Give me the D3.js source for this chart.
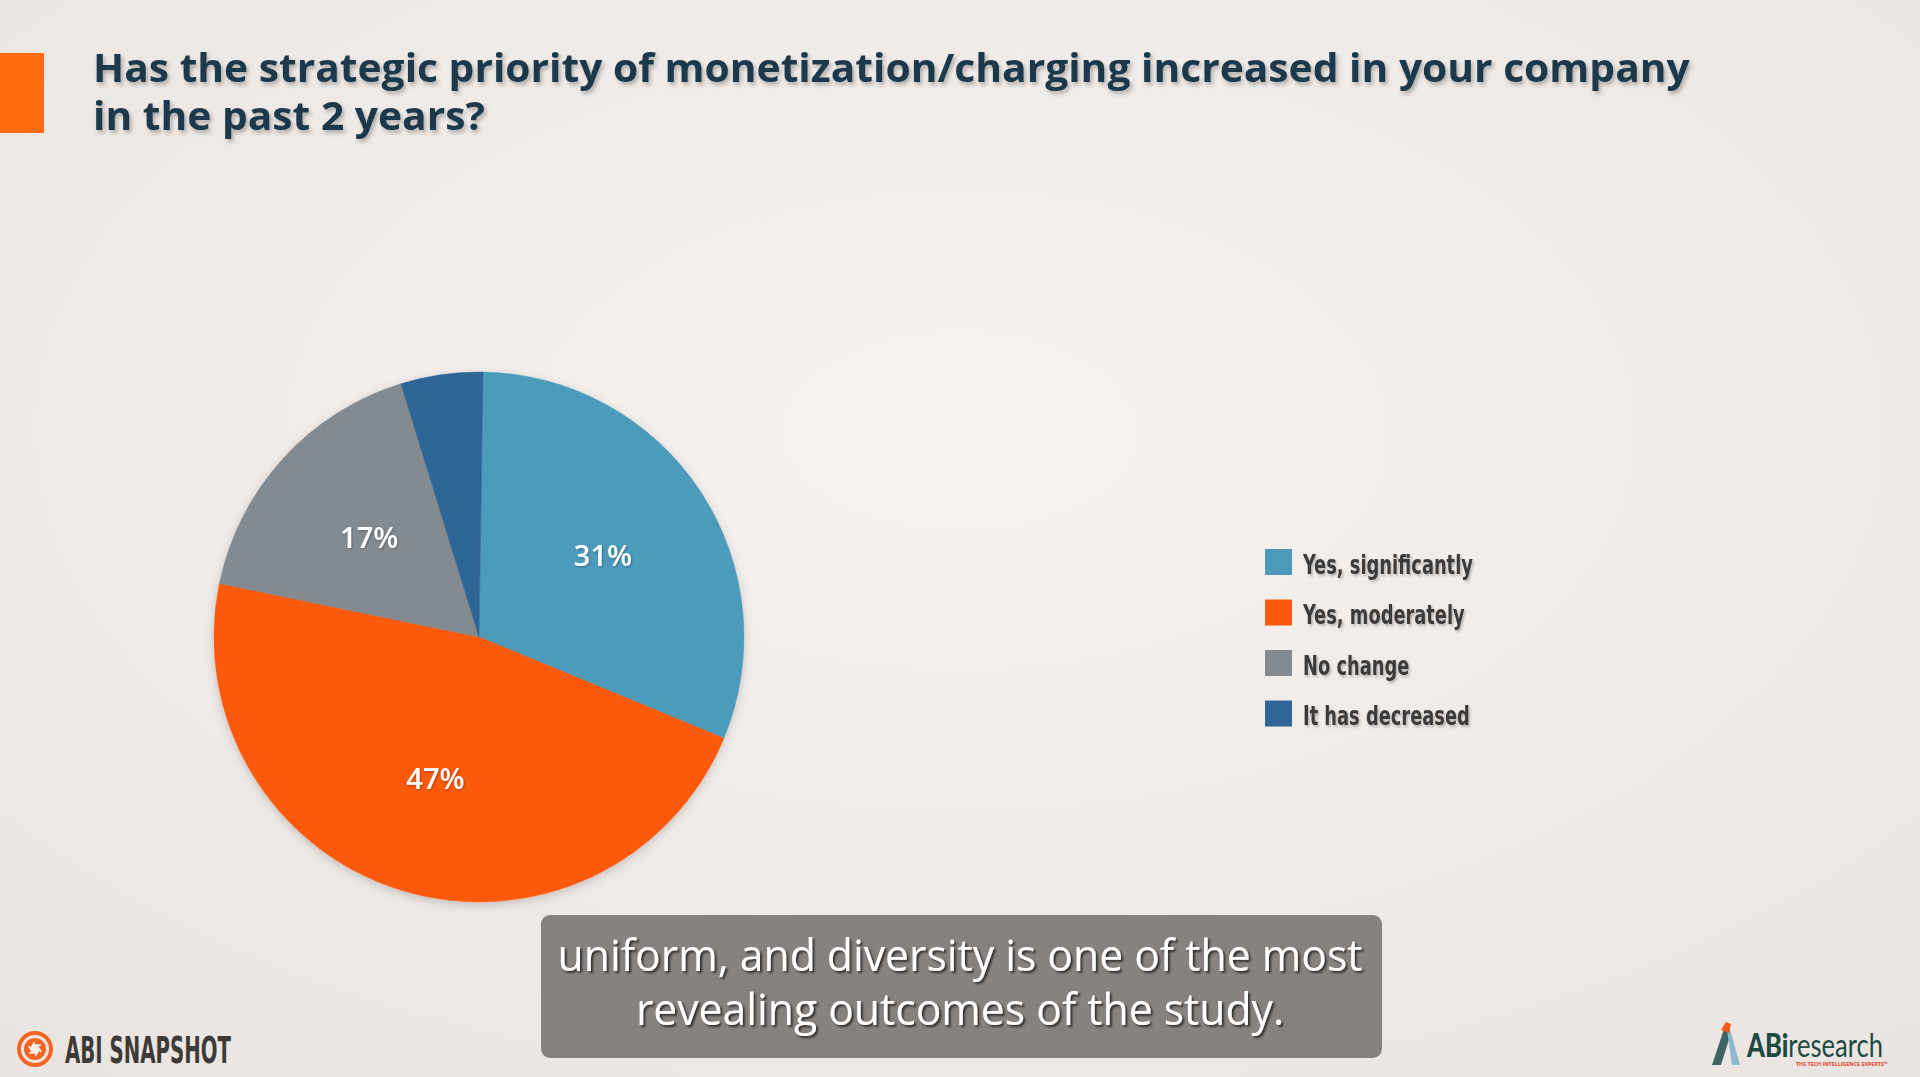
<!DOCTYPE html>
<html>
<head>
<meta charset="utf-8">
<script src="https://cdn.jsdelivr.net/npm/d3@7"></script>
<style>
  html, body { margin: 0; padding: 0; overflow: hidden; background: #f0ebe7; }
  svg { display: block; }
</style>
</head>
<body>
<div id="chart"></div>
<script>
// Survey answers
const categories = ['Yes, significantly', 'Yes, moderately', 'No change', 'It has decreased'];
const shares = [31, 47, 17, 5];
const sliceColors = ['#4d9bbb', '#fb5a0c', '#838b91', '#2f6597'];
const titleLines = [
  'Has the strategic priority of monetization/charging increased in your company',
  'in the past 2 years?'
];
const captionLines = [
  'uniform, and diversity is one of the most',
  'revealing outcomes of the study.'
];

const W = 1920, H = 1077;

const svg = d3.select('#chart').append('svg')
  .attr('width', W)
  .attr('height', H);

const defs = svg.append('defs');

// background wash
const bg = defs.append('radialGradient').attr('id', 'bg')
  .attr('cx', '50%').attr('cy', '40%').attr('r', '75%');
bg.append('stop').attr('offset', '0%').attr('stop-color', '#f6f2ef');
bg.append('stop').attr('offset', '100%').attr('stop-color', '#ebe5e1');

function shadow(id, dx, dy, sd, op) {
  defs.append('filter').attr('id', id)
    .attr('x', '-20%').attr('y', '-20%').attr('width', '140%').attr('height', '140%')
    .append('feDropShadow')
    .attr('dx', dx).attr('dy', dy).attr('stdDeviation', sd)
    .attr('flood-color', '#000').attr('flood-opacity', op);
}
shadow('titleShadow', 2, 3, 2, 0.28);
shadow('legendShadow', 2, 2, 1.5, 0.25);
shadow('pieShadow', 0, 3, 5, 0.18);
shadow('labelShadow', 1, 1, 1, 0.3);
shadow('captionShadow', 2, 2, 1.2, 0.65);

svg.append('rect').attr('width', W).attr('height', H).attr('fill', 'url(#bg)');

// fit a group of texts to a target width by squeezing horizontally
function fitWidth(g, textSel, target, x) {
  const w = textSel.node().getComputedTextLength();
  g.attr('transform', `translate(${x},0) scale(${target / w},1)`);
}

// ---------- title ----------
svg.append('rect')
  .attr('x', 0).attr('y', 53).attr('width', 44).attr('height', 80)
  .attr('fill', '#ff6c12');

const title = svg.append('g').attr('filter', 'url(#titleShadow)');
const titleText = title.selectAll('text')
  .data(titleLines)
  .join('text')
  .attr('x', 0)
  .attr('y', (d, i) => 82 + i * 48)
  .style('font-family', "'Open Sans', sans-serif")
  .style('font-weight', 700)
  .style('font-size', '40px')
  .style('fill', '#1e394b')
  .text(d => d);
fitWidth(title, titleText, 1597, 93);

// ---------- pie ----------
const cx = 479, cy = 637, R = 265;
const pie = d3.pie().sort(null).value(d => d).startAngle(0.015).endAngle(0.015 + 2 * Math.PI);
const arcs = pie(shares);
const arc = d3.arc().innerRadius(0).outerRadius(R);
const labelArc = d3.arc().innerRadius(R * 0.56).outerRadius(R * 0.56);

const pieG = svg.append('g').attr('transform', `translate(${cx},${cy})`);
pieG.append('g').attr('filter', 'url(#pieShadow)')
  .selectAll('path')
  .data(arcs)
  .join('path')
  .attr('d', arc)
  .attr('fill', (d, i) => sliceColors[i])
  .attr('stroke', (d, i) => sliceColors[i])
  .attr('stroke-width', 0.5);

pieG.append('g').attr('filter', 'url(#labelShadow)')
  .selectAll('text')
  .data(arcs.filter(d => d.data >= 10))
  .join('text')
  .attr('transform', d => `translate(${labelArc.centroid(d)})`)
  .attr('text-anchor', 'middle')
  .attr('dy', '0.36em')
  .style('font-family', "'Open Sans', sans-serif")
  .style('font-weight', 600)
  .style('font-size', '29px')
  .style('fill', '#ffffff')
  .text(d => d.data + '%');

// ---------- legend ----------
const legend = svg.append('g').attr('transform', 'translate(1265,549)');
const items = legend.selectAll('g')
  .data(categories)
  .join('g')
  .attr('transform', (d, i) => `translate(0,${i * 50.5})`);
items.append('rect')
  .attr('width', 27).attr('height', 26)
  .attr('fill', (d, i) => sliceColors[i]);
const legendLabels = items.append('g').attr('filter', 'url(#legendShadow)');
const legendText = legendLabels.append('text')
  .attr('x', 0).attr('y', 25)
  .style('font-family', "'DejaVu Sans Condensed', 'Liberation Sans Narrow', sans-serif")
  .style('font-stretch', 'condensed')
  .style('font-weight', 700)
  .style('font-size', '26px')
  .style('fill', '#3b3b3b')
  .text(d => d);
const lw = legendText.node().getComputedTextLength();
legendLabels.attr('transform', `translate(38,0) scale(${170 / lw},1)`);

// ---------- caption box ----------
svg.append('rect')
  .attr('x', 541).attr('y', 915).attr('width', 841).attr('height', 143)
  .attr('rx', 9).attr('ry', 9)
  .attr('fill', '#87827f');
const caption = svg.append('g').attr('filter', 'url(#captionShadow)');
const capText = caption.selectAll('text')
  .data(captionLines)
  .join('text')
  .attr('x', 0)
  .attr('y', (d, i) => 971 + i * 54)
  .attr('text-anchor', 'middle')
  .style('font-family', "'Open Sans', sans-serif")
  .style('font-size', '43px')
  .style('fill', '#ffffff')
  .text(d => d);
fitWidth(caption, capText, 805, 960);

// ---------- ABI SNAPSHOT mark ----------
const snap = svg.append('g').attr('transform', 'translate(35,1049)');
snap.append('circle').attr('r', 16).attr('fill', 'none')
  .attr('stroke', '#f26522').attr('stroke-width', 4);
snap.append('circle').attr('r', 11).attr('fill', '#f26522');
const hex = d3.range(6).map(k => {
  const a = k * Math.PI / 3;
  return [4.5 * Math.cos(a), 4.5 * Math.sin(a)];
});
snap.append('polygon').attr('points', hex.map(p => p.join(',')).join(' ')).attr('fill', '#f7efe9');
snap.selectAll('line.blade')
  .data(hex)
  .join('line')
  .attr('class', 'blade')
  .attr('x1', d => d[0]).attr('y1', d => d[1])
  .attr('x2', (d, k) => d[0] + 8 * Math.cos(k * Math.PI / 3 + 2.1))
  .attr('y2', (d, k) => d[1] + 8 * Math.sin(k * Math.PI / 3 + 2.1))
  .attr('stroke', '#f7efe9').attr('stroke-width', 1.6);

svg.append('text')
  .attr('x', 65).attr('y', 1063)
  .attr('textLength', 166).attr('lengthAdjust', 'spacingAndGlyphs')
  .style('font-family', "'DejaVu Sans Condensed', sans-serif")
  .style('font-weight', 700)
  .style('font-size', '37px')
  .style('fill', '#3d3a38')
  .text('ABI SNAPSHOT');

// ---------- ABIresearch logo ----------
const logo = svg.append('g');
logo.append('path')
  .attr('d', 'M1712,1065 L1721,1065 L1731,1033 L1726,1023 Z')
  .attr('fill', '#3f6463');
logo.append('path')
  .attr('d', 'M1726,1023 L1731,1033 L1740,1065 L1732,1065 Z')
  .attr('fill', '#8cb9cc');
logo.append('path')
  .attr('d', 'M1721,1030 L1726,1022 L1731,1024 L1729,1033 Z')
  .attr('fill', '#f05a1c');
const wordG = logo.append('g');
const word = wordG.append('text')
  .attr('x', 0).attr('y', 1057)
  .style('font-family', "Lato, 'Open Sans', sans-serif")
  .style('font-size', '32px')
  .style('fill', '#1d4a42')
  .call(t => t.append('tspan').style('font-weight', 900).text('ABi'))
  .call(t => t.append('tspan').style('font-weight', 400).text('research'));
fitWidth(wordG, word, 136, 1747);
logo.append('text')
  .attr('x', 1796).attr('y', 1066)
  .attr('textLength', 92).attr('lengthAdjust', 'spacingAndGlyphs')
  .style('font-family', "'Open Sans', sans-serif")
  .style('font-weight', 700)
  .style('font-size', '6px')
  .style('fill', '#e0401c')
  .text('THE TECH INTELLIGENCE EXPERTS\u2122');
</script>
</body>
</html>
